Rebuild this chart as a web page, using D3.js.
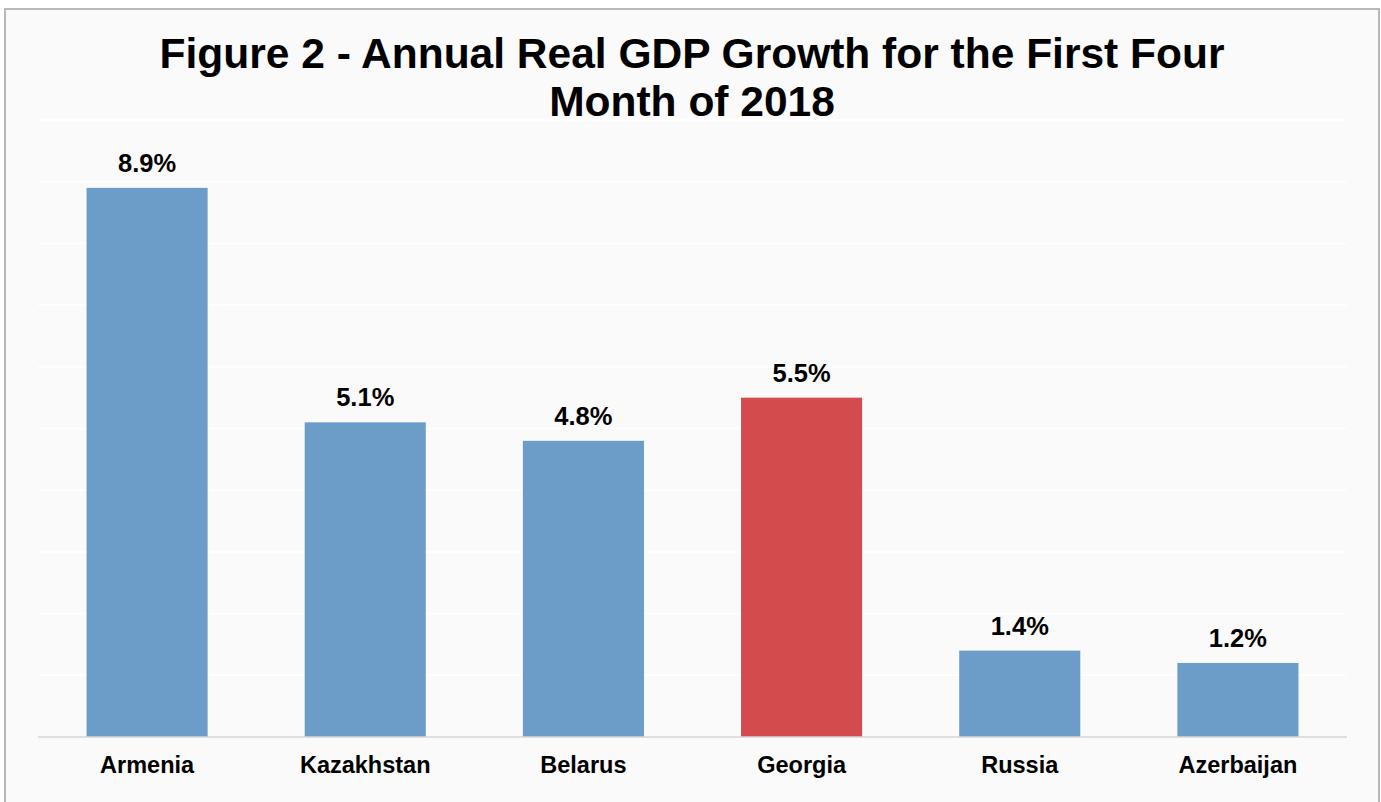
<!DOCTYPE html>
<html>
<head>
<meta charset="utf-8">
<script src="https://cdn.jsdelivr.net/npm/d3@7"></script>
<style>
  html, body { margin: 0; padding: 0; background: #fff; }
  svg { display: block; font-family: "Liberation Sans", Arial, sans-serif; }
</style>
</head>
<body>
<svg id="chart" width="1381" height="802"></svg>
<script>
const countries = ['Armenia', 'Kazakhstan', 'Belarus', 'Georgia', 'Russia', 'Azerbaijan'];
const growth = [8.9, 5.1, 4.8, 5.5, 1.4, 1.2];
const highlight = ['Georgia'];
const yTicks = [0, 1, 2, 3, 4, 5, 6, 7, 8, 9, 10];
const titleLines = ['Figure 2 - Annual Real GDP Growth for the First Four', 'Month of 2018'];

const svg = d3.select('#chart');
const margin = { left: 38, right: 34, top: 120, bottom: 65 };
const width = 1381, height = 802;

// chart frame
svg.append('rect')
    .attr('x', 5).attr('y', 9)
    .attr('width', width - 7).attr('height', height)
    .attr('fill', '#fafafa')
    .attr('stroke', '#b8b8b8')
    .attr('stroke-width', 2);

const x = d3.scaleBand()
    .domain(countries)
    .range([margin.left, width - margin.right])
    .paddingInner(0.445)
    .paddingOuter(0.2225);

const y = d3.scaleLinear()
    .domain([0, 10])
    .range([height - margin.bottom, margin.top]);

// gridlines
svg.append('g')
    .selectAll('line')
    .data(yTicks.slice(1))
    .join('line')
    .attr('x1', margin.left).attr('x2', width - margin.right)
    .attr('y1', d => y(d)).attr('y2', d => y(d))
    .attr('stroke', '#ffffff')
    .attr('stroke-width', 1.5);

const data = countries.map((c, i) => ({ c, v: growth[i] }));

svg.append('g')
    .selectAll('rect')
    .data(data)
    .join('rect')
    .attr('x', d => x(d.c))
    .attr('width', x.bandwidth())
    .attr('y', d => y(d.v))
    .attr('height', d => y(0) - y(d.v))
    .attr('fill', d => highlight.includes(d.c) ? '#d34b4d' : '#6b9dc8');

// baseline
svg.append('line')
    .attr('x1', margin.left).attr('x2', width - margin.right)
    .attr('y1', y(0)).attr('y2', y(0))
    .attr('stroke', '#d6d6d6')
    .attr('stroke-width', 1.5);

// value labels
svg.append('g')
    .selectAll('text')
    .data(data)
    .join('text')
    .attr('x', d => x(d.c) + x.bandwidth() / 2)
    .attr('y', d => y(d.v) - 16)
    .attr('text-anchor', 'middle')
    .attr('font-size', 25.5)
    .attr('font-weight', 'bold')
    .attr('fill', '#000')
    .text(d => d.v.toFixed(1) + '%');

// category labels
svg.append('g')
    .selectAll('text')
    .data(countries)
    .join('text')
    .attr('x', d => x(d) + x.bandwidth() / 2)
    .attr('y', y(0) + 36)
    .attr('text-anchor', 'middle')
    .attr('font-size', 23.5)
    .attr('font-weight', 'bold')
    .attr('fill', '#000')
    .text(d => d);

// title
svg.append('g')
    .selectAll('text')
    .data(titleLines)
    .join('text')
    .attr('x', 692)
    .attr('y', (d, i) => 68 + i * 48)
    .attr('text-anchor', 'middle')
    .attr('font-size', 42.5)
    .attr('font-weight', 'bold')
    .attr('fill', '#000')
    .text(d => d);
</script>
</body>
</html>
